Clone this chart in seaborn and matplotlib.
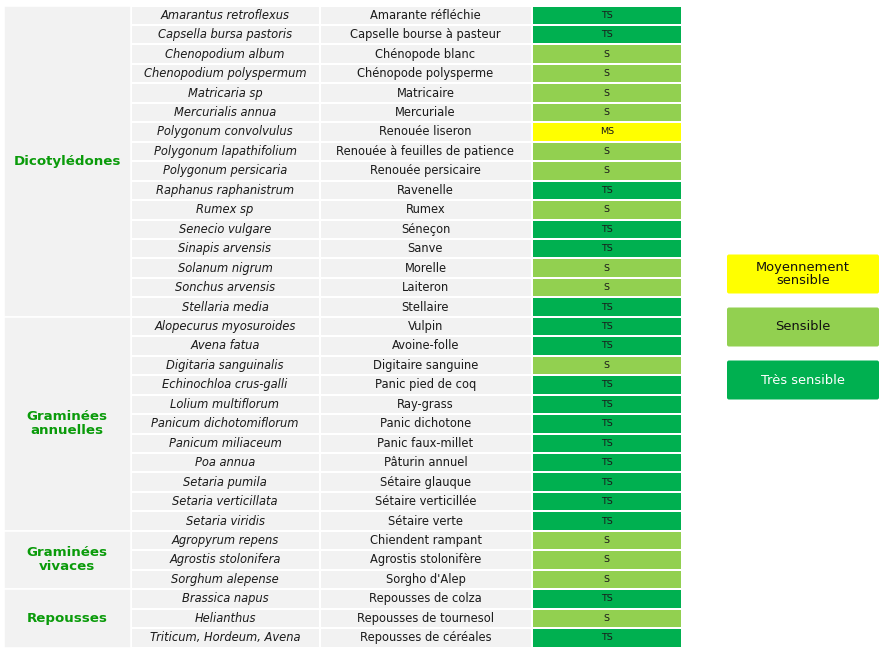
import numpy as np
import pandas as pd
import matplotlib
matplotlib.use("Agg")
import matplotlib.pyplot as plt
import seaborn as sns
from matplotlib.colors import ListedColormap
from matplotlib.patches import FancyBboxPatch

# ---------------- data ----------------
groups = ["Dicotylédones", "Graminées\nannuelles", "Graminées\nvivaces", "Repousses"]
group_sizes = [16, 11, 3, 3]

latin = [
    "Amarantus retroflexus", "Capsella bursa pastoris", "Chenopodium album",
    "Chenopodium polyspermum", "Matricaria sp", "Mercurialis annua",
    "Polygonum convolvulus", "Polygonum lapathifolium", "Polygonum persicaria",
    "Raphanus raphanistrum", "Rumex sp", "Senecio vulgare", "Sinapis arvensis",
    "Solanum nigrum", "Sonchus arvensis", "Stellaria media",
    "Alopecurus myosuroides", "Avena fatua", "Digitaria sanguinalis",
    "Echinochloa crus-galli", "Lolium multiflorum", "Panicum dichotomiflorum",
    "Panicum miliaceum", "Poa annua", "Setaria pumila", "Setaria verticillata",
    "Setaria viridis",
    "Agropyrum repens", "Agrostis stolonifera", "Sorghum alepense",
    "Brassica napus", "Helianthus", "Triticum, Hordeum, Avena",
]

french = [
    "Amarante réfléchie", "Capselle bourse à pasteur", "Chénopode blanc",
    "Chénopode polysperme", "Matricaire", "Mercuriale", "Renouée liseron",
    "Renouée à feuilles de patience", "Renouée persicaire", "Ravenelle", "Rumex",
    "Séneçon", "Sanve", "Morelle", "Laiteron", "Stellaire",
    "Vulpin", "Avoine-folle", "Digitaire sanguine", "Panic pied de coq",
    "Ray-grass", "Panic dichotone", "Panic faux-millet", "Pâturin annuel",
    "Sétaire glauque", "Sétaire verticillée", "Sétaire verte",
    "Chiendent rampant", "Agrostis stolonifère", "Sorgho d'Alep",
    "Repousses de colza", "Repousses de tournesol", "Repousses de céréales",
]

sensitivity = [
    "TS", "TS", "S", "S", "S", "S", "MS", "S", "S", "TS", "S", "TS", "TS", "S", "S", "TS",
    "TS", "TS", "S", "TS", "TS", "TS", "TS", "TS", "TS", "TS", "TS",
    "S", "S", "S",
    "TS", "S", "TS",
]

levels = ["MS", "S", "TS"]
level_names = ["Moyennement\nsensible", "Sensible", "Très sensible"]

# ---------------- style ----------------
level_colors = ["#FFFF00", "#92D050", "#00B050"]
level_text = ["#111111", "#111111", "#FFFFFF"]
gray = "#F2F2F2"
group_color = "#0A9B0A"
text_color = "#1a1a1a"

sns.set_theme(style="white")
plt.rcParams["font.family"] = ["DejaVu Sans"]

W, H = 886, 657
fig = plt.figure(figsize=(W / 100, H / 100), dpi=100)
fig.patch.set_facecolor("white")


def add_ax(x0, x1, y0, y1):
    return fig.add_axes([x0 / W, 1 - y1 / H, (x1 - x0) / W, (y1 - y0) / H])


TOP, BOT = 5.5, 647.5
n = len(latin)
lw = 1.2

# ---------- group column ----------
axg = add_ax(3.5, 130.5, TOP, BOT)
starts = np.cumsum([0] + group_sizes[:-1])
centers = starts + np.array(group_sizes) / 2
axg.barh(y=centers, width=1, height=group_sizes, left=0, color=gray,
         edgecolor="white", linewidth=lw)
for c, g in zip(centers, groups):
    axg.text(0.5, c, g, ha="center", va="center", color=group_color,
             fontsize=9.6, fontweight="bold", linespacing=1.1)
axg.set_xlim(0, 1)
axg.set_ylim(n, 0)
axg.axis("off")

# ---------- latin names ----------
ax1 = add_ax(130.5, 319.5, TOP, BOT)
sns.heatmap(pd.DataFrame(np.zeros((n, 1))), ax=ax1, cmap=ListedColormap([gray]),
            cbar=False, annot=np.array(latin).reshape(-1, 1), fmt="",
            annot_kws=dict(color=text_color, fontsize=8.3, fontstyle="italic"),
            linewidths=lw, linecolor="white", xticklabels=False, yticklabels=False)
ax1.axis("off")

# ---------- french names ----------
ax2 = add_ax(319.5, 531.5, TOP, BOT)
sns.heatmap(pd.DataFrame(np.zeros((n, 1))), ax=ax2, cmap=ListedColormap([gray]),
            cbar=False, annot=np.array(french).reshape(-1, 1), fmt="",
            annot_kws=dict(color=text_color, fontsize=8.3),
            linewidths=lw, linecolor="white", xticklabels=False, yticklabels=False)
ax2.axis("off")

# ---------- sensitivity ----------
ax3 = add_ax(531.5, 682, TOP, BOT)
codes = np.array([levels.index(s) for s in sensitivity]).reshape(-1, 1)
sns.heatmap(pd.DataFrame(codes), ax=ax3, cmap=ListedColormap(level_colors),
            vmin=-0.5, vmax=len(levels) - 0.5, cbar=False,
            annot=np.array(sensitivity).reshape(-1, 1), fmt="",
            annot_kws=dict(color=text_color, fontsize=6.8),
            linewidths=lw, linecolor="white", xticklabels=False, yticklabels=False)
ax3.axis("off")

# ---------- legend ----------
axl = fig.add_axes([0, 0, 1, 1])
axl.set_xlim(0, W)
axl.set_ylim(H, 0)
axl.axis("off")
axl.patch.set_visible(False)
leg_centers = [274, 327, 380]
for name, col, tc, cy in zip(level_names, level_colors, level_text, leg_centers):
    box = FancyBboxPatch((727, cy - 19.5), 152, 39,
                         boxstyle="round,pad=0,rounding_size=2",
                         facecolor=col, edgecolor="none")
    axl.add_patch(box)
    axl.text(803, cy, name, ha="center", va="center", color=tc,
             fontsize=9.4, linespacing=1.1)

fig.savefig("out.png", dpi=100, facecolor="white")
